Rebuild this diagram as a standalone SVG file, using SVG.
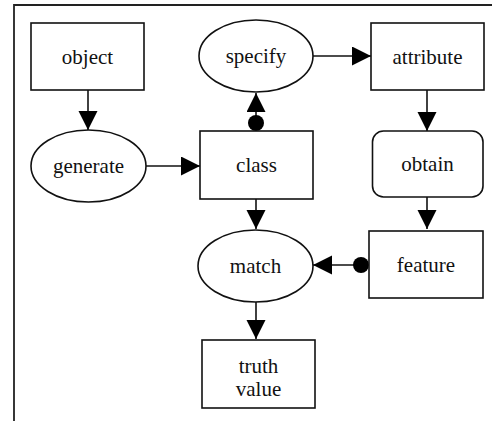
<svg xmlns="http://www.w3.org/2000/svg" width="493" height="421" viewBox="0 0 493 421">
  <style>
    .shape { fill: #ffffff; stroke: #111111; stroke-width: 1.6; }
    .frame { fill: none; stroke: #222222; stroke-width: 1.8; }
    .label { font-family: "Liberation Serif", "Times New Roman", serif; font-size: 21px; fill: #111111; text-anchor: middle; }
    .edge { fill: none; stroke: #111111; stroke-width: 1.6; }
  </style>
  <defs>
    <marker id="arrow" markerUnits="userSpaceOnUse" markerWidth="20" markerHeight="20" refX="19" refY="9.5" orient="auto">
      <path d="M0,0 L19,9.5 L0,19 Z" fill="#000000"/>
    </marker>
    <marker id="dot" markerUnits="userSpaceOnUse" markerWidth="18" markerHeight="18" refX="9" refY="9" orient="auto">
      <circle cx="9" cy="9" r="8" fill="#000000"/>
    </marker>
  </defs>

  <rect width="493" height="421" fill="#ffffff"/>

  <!-- frame: top and left rules -->
  <path class="frame" d="M14,421 L14,5 L492,5"/>

  <!-- connectors -->
  <g id="connectors">
    <line class="edge" x1="88" y1="90" x2="88" y2="130" marker-end="url(#arrow)"/>
    <line class="edge" x1="146" y1="166" x2="200" y2="166" marker-end="url(#arrow)"/>
    <line class="edge" x1="256" y1="123" x2="256" y2="93" marker-start="url(#dot)" marker-end="url(#arrow)"/>
    <line class="edge" x1="313" y1="56" x2="371" y2="56" marker-end="url(#arrow)"/>
    <line class="edge" x1="427" y1="90" x2="427" y2="131" marker-end="url(#arrow)"/>
    <line class="edge" x1="256" y1="199" x2="256" y2="229" marker-end="url(#arrow)"/>
    <line class="edge" x1="427" y1="197" x2="427" y2="229" marker-end="url(#arrow)"/>
    <line class="edge" x1="361" y1="265" x2="313" y2="265" marker-start="url(#dot)" marker-end="url(#arrow)"/>
    <line class="edge" x1="256" y1="302" x2="256" y2="339" marker-end="url(#arrow)"/>
  </g>

  <g id="object">
    <rect class="shape" x="31" y="23" width="113" height="67"/>
    <text class="label" x="87.5" y="64">object</text>
  </g>

  <g id="specify">
    <ellipse class="shape" cx="256" cy="56" rx="57" ry="36"/>
    <text class="label" x="256" y="63">specify</text>
  </g>

  <g id="attribute">
    <rect class="shape" x="371" y="23" width="113" height="67"/>
    <text class="label" x="427.5" y="64">attribute</text>
  </g>

  <g id="generate">
    <ellipse class="shape" cx="88.5" cy="166" rx="57.5" ry="36"/>
    <text class="label" x="88.5" y="173">generate</text>
  </g>

  <g id="class">
    <rect class="shape" x="200" y="131" width="113" height="68"/>
    <text class="label" x="256.5" y="172">class</text>
  </g>

  <g id="obtain">
    <rect class="shape" x="372.5" y="131" width="110.5" height="66" rx="11" ry="11"/>
    <text class="label" x="427.5" y="171">obtain</text>
  </g>

  <g id="match">
    <ellipse class="shape" cx="255.5" cy="266" rx="57.5" ry="36"/>
    <text class="label" x="255.5" y="273">match</text>
  </g>

  <g id="feature">
    <rect class="shape" x="369" y="231" width="114" height="67"/>
    <text class="label" x="426" y="272">feature</text>
  </g>

  <g id="truth-value">
    <rect class="shape" x="202" y="340" width="113" height="68"/>
    <text class="label" x="258.5" y="373">truth</text>
    <text class="label" x="258.5" y="396">value</text>
  </g>
</svg>
